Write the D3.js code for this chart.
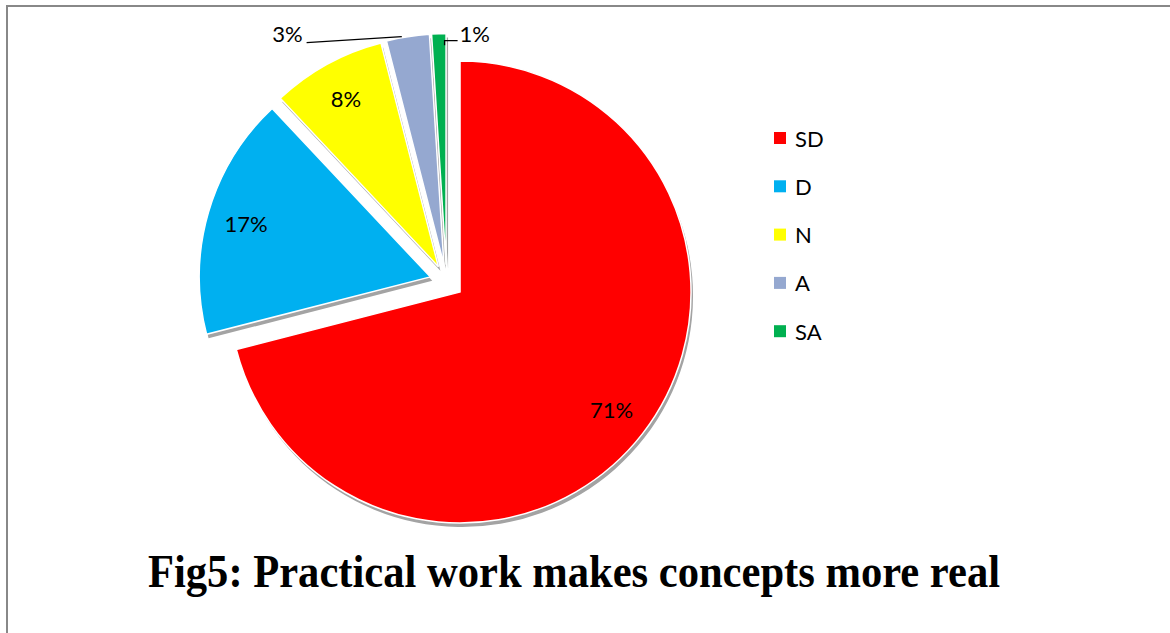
<!DOCTYPE html>
<html>
<head>
<meta charset="utf-8">
<script src="https://cdn.jsdelivr.net/npm/d3@7"></script>
<style>
  html, body { margin: 0; padding: 0; background: #fff; }
  svg { display: block; }
</style>
</head>
<body>
<svg id="chart" width="1170" height="633"></svg>
<script>
// Survey responses: "Practical work makes concepts more real"
const categories = ["SD", "D", "N", "A", "SA"];
const percents   = [71, 17, 8, 3, 1];
const colors     = ["#FF0000", "#00B0F0", "#FFFF00", "#95A8D0", "#00B050"];
const titleText  = "Fig5: Practical work makes concepts more real";

const W = 1170, H = 633;
const svg = d3.select("#chart");

// frame lines (top and left)
svg.append("line").attr("x1", 6).attr("y1", 6).attr("x2", W).attr("y2", 6)
  .attr("stroke", "#888").attr("stroke-width", 2);
svg.append("line").attr("x1", 7).attr("y1", 6).attr("x2", 7).attr("y2", H)
  .attr("stroke", "#888").attr("stroke-width", 2);

const cx = 446.6, cy = 281.6;   // pie centre
const R = 231;                   // radius
const explode = 17;              // slice explosion distance

const data = categories.map((c, i) => ({ cat: c, value: percents[i], color: colors[i] }));

const pie = d3.pie().value(d => d.value).sort(null).startAngle(0).endAngle(2 * Math.PI);
const arcs = pie(data);
const arc = d3.arc().innerRadius(0).outerRadius(R);
const labelArc = d3.arc().innerRadius(R * 0.83).outerRadius(R * 0.83);

const defs = svg.append("defs");
defs.append("filter").attr("id", "soft").attr("x", "-10%").attr("y", "-10%")
  .attr("width", "120%").attr("height", "120%")
  .append("feGaussianBlur").attr("stdDeviation", 0.7);

function offsetOf(a) {
  const m = (a.startAngle + a.endAngle) / 2;
  return [explode * Math.sin(m), -explode * Math.cos(m)];
}

const g = svg.append("g").attr("transform", `translate(${cx},${cy})`);

const slices = g.selectAll("g.slice").data(arcs).join("g")
  .attr("class", "slice")
  .attr("transform", d => { const o = offsetOf(d); return `translate(${o[0]},${o[1]})`; });

// shadow
slices.append("path")
  .attr("d", arc)
  .attr("transform", "translate(2,4)")
  .attr("fill", "#a3a3a3")
  .attr("filter", "url(#soft)");

// slice body
slices.append("path")
  .attr("d", arc)
  .attr("fill", d => d.data.color)
  .attr("stroke", "#fff")
  .attr("stroke-width", 1.5);

// inside labels for large slices
const labelFont = "Lato, 'Open Sans', sans-serif";
const labelSize = 22;
slices.filter(d => d.data.value >= 5).append("text")
  .attr("transform", d => { const p = labelArc.centroid(d); return `translate(${p[0]},${p[1]})`; })
  .attr("text-anchor", "middle")
  .attr("dominant-baseline", "central")
  .attr("font-family", labelFont)
  .attr("font-size", labelSize)
  .attr("fill", "#000")
  .text(d => d.data.value + "%");

// outside labels with leader lines for small slices
const outer = (d, frac) => {
  const m = (d.startAngle + d.endAngle) / 2;
  const o = offsetOf(d);
  return [o[0] + R * frac * Math.sin(m), o[1] - R * frac * Math.cos(m)];
};

// "A" slice: label to the left
{
  const d = arcs[3];
  const p = outer(d, 1.0);
  const lx = -140, ly = -240;   // label anchor relative to centre
  g.append("polyline")
    .attr("points", [[lx, ly + 1], [p[0] - 6, p[1]]].map(q => q.join(",")).join(" "))
    .attr("fill", "none").attr("stroke", "#000").attr("stroke-width", 1.3);
  g.append("text")
    .attr("x", lx - 4).attr("y", ly)
    .attr("text-anchor", "end")
    .attr("font-family", labelFont).attr("font-size", labelSize).attr("fill", "#000")
    .text(d.data.value + "%");
}

// "SA" slice: label to the right
{
  const d = arcs[4];
  const o = offsetOf(d);
  const ex = o[0] + R * 0.05 * Math.sin(d.endAngle) - 1.5;
  const ey = o[1] - R * 0.95 * Math.cos(d.endAngle);
  const lx = 11, ly = -241;
  g.append("polyline")
    .attr("points", [[ex, ey], [ex, ly], [lx, ly]].map(q => q.join(",")).join(" "))
    .attr("fill", "none").attr("stroke", "#000").attr("stroke-width", 1.3);
  g.append("text")
    .attr("x", lx + 2).attr("y", ly + 1)
    .attr("font-family", labelFont).attr("font-size", labelSize).attr("fill", "#000")
    .text(d.data.value + "%");
}

// legend
const legend = svg.append("g").attr("transform", "translate(774,138)");
const rows = legend.selectAll("g").data(data).join("g")
  .attr("transform", (d, i) => `translate(0,${i * 48.3})`);
rows.append("rect").attr("x", 0).attr("y", -6).attr("width", 12).attr("height", 12)
  .attr("fill", d => d.color);
rows.append("text").attr("x", 21).attr("y", 0)
  .attr("dominant-baseline", "central")
  .attr("font-family", labelFont).attr("font-size", labelSize).attr("fill", "#000")
  .text(d => d.cat);

// title
svg.append("text")
  .attr("x", 148).attr("y", 587)
  .attr("font-family", "'Liberation Serif', 'Times New Roman', serif")
  .attr("font-weight", "bold")
  .attr("font-size", 46)
  .attr("textLength", 852)
  .attr("lengthAdjust", "spacingAndGlyphs")
  .attr("fill", "#000")
  .text(titleText);
</script>
</body>
</html>
